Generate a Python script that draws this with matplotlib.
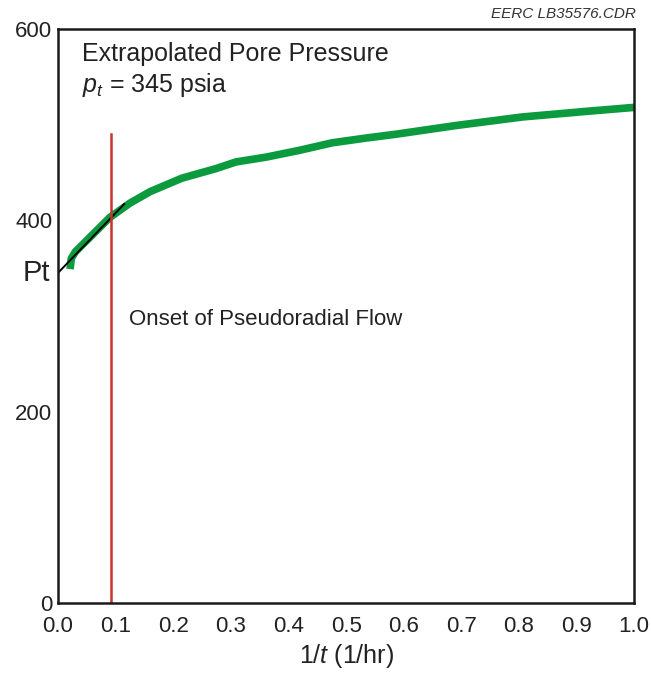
import matplotlib
matplotlib.use('Agg')
import matplotlib.pyplot as plt

plt.rcParams['font.family'] = ['Liberation Sans', 'DejaVu Sans']
plt.rcParams['mathtext.fontset'] = 'custom'
plt.rcParams['mathtext.rm'] = 'Liberation Sans'
plt.rcParams['mathtext.it'] = 'Liberation Sans:italic'

# Pressure data
inv_t = [0.021, 0.023, 0.03, 0.055, 0.09, 0.125, 0.16, 0.215, 0.274, 0.309,
         0.361, 0.418, 0.476, 0.535, 0.587, 0.69, 0.806, 0.92, 1.0]
pressure = [349, 360, 367, 382, 403, 418, 430, 444, 454, 461,
            466, 473, 481, 486, 490, 499, 508, 514, 518]

# extrapolation line to 1/t = 0
fit_x = [0.0, 0.115]
fit_y = [345, 417]

onset_x = 0.092
onset_top = 490
p_t = 345

fig = plt.figure(figsize=(6.51, 6.73), dpi=100)
ax = fig.add_axes([0.0891, 0.104, 0.885, 0.853])

ax.plot(inv_t, pressure, color='#0b9a3e', linewidth=5.5, solid_capstyle='butt')
ax.plot(fit_x, fit_y, color='black', linewidth=1.4)
ax.plot([onset_x, onset_x], [0, onset_top], color='#c9342c', linewidth=1.8)

ax.set_xlim(0, 1.0)
ax.set_ylim(0, 600)
ax.set_xticks([i / 10 for i in range(11)])
ax.set_xticklabels(['%.1f' % (i / 10) for i in range(11)])
ax.set_yticks([0, 200, 400, 600])
ax.tick_params(length=0, labelsize=16, labelcolor='#222222')
ax.tick_params(axis='y', pad=4)
ax.tick_params(axis='x', pad=9)
for s in ax.spines.values():
    s.set_linewidth(1.8)
    s.set_color('#1a1a1a')

ax.set_xlabel('1/$t$ (1/hr)', fontsize=18, labelpad=4, color='#222222')

ax.text(-0.013, p_t, 'Pt', fontsize=21, ha='right', va='center',
        transform=ax.get_yaxis_transform(), color='#222222')
ax.text(0.042, 574, 'Extrapolated Pore Pressure', fontsize=18, va='center',
        color='#222222')
ax.text(0.042, 541, '$p_t$ = 345 psia', fontsize=18, va='center',
        color='#222222')
ax.text(0.123, 296, 'Onset of Pseudoradial Flow', fontsize=16, va='center',
        color='#222222')
fig.text(0.976, 0.99, 'EERC LB35576.CDR', fontsize=11, style='italic',
         ha='right', va='top', color='#333333')

fig.savefig('out.png', dpi=100)
